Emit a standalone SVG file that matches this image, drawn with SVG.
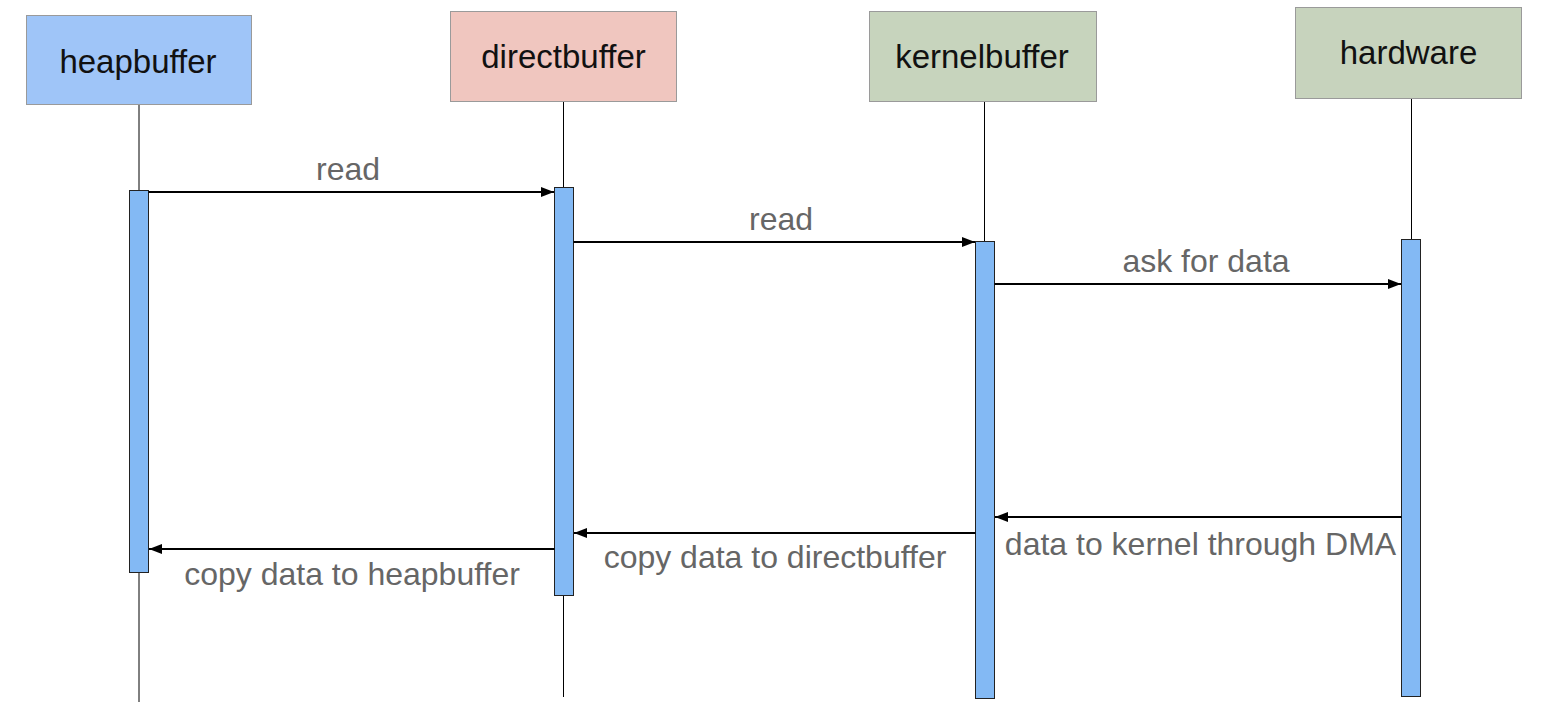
<svg xmlns="http://www.w3.org/2000/svg" width="1543" height="718" viewBox="0 0 1543 718">
<defs>
<marker id="ah" markerWidth="13" markerHeight="10" refX="13" refY="5" orient="auto" markerUnits="userSpaceOnUse">
<path d="M0,0 L13,5 L0,10 Z" fill="#000"/>
</marker>
<style>
.box{stroke:#9a9a9a;stroke-width:1}
.title{font-family:"Liberation Sans",Arial,sans-serif;font-size:33px;fill:#111;text-anchor:middle}
.life{stroke:#000;stroke-width:1;fill:none}
.bar{fill:#83b9f4;stroke:#222;stroke-width:1}
.msg{stroke:#000;stroke-width:2;fill:none;marker-end:url(#ah)}
.lbl{font-family:"Liberation Sans",Arial,sans-serif;font-size:32px;fill:#666;text-anchor:middle}
</style>
</defs>
<rect width="1543" height="718" fill="#fff"/>
<g id="heapbuffer">
<line class="life" x1="139" y1="104" x2="139" y2="702"/>
<rect class="box" x="26.5" y="15.5" width="225" height="89" fill="#9fc5f8"/>
<text class="title" x="138" y="73">heapbuffer</text>
<rect class="bar" x="129.5" y="190.5" width="19" height="382"/>
</g>
<g id="directbuffer">
<line class="life" x1="563.5" y1="101" x2="563.5" y2="697"/>
<rect class="box" x="450.5" y="11.5" width="226" height="90" fill="#f0c6bf"/>
<text class="title" x="563.5" y="68">directbuffer</text>
<rect class="bar" x="554.5" y="187.5" width="19" height="408"/>
</g>
<g id="kernelbuffer">
<line class="life" x1="984.5" y1="101" x2="984.5" y2="698"/>
<rect class="box" x="869.5" y="11.5" width="227" height="90" fill="#c7d4bd" stroke="none"/>
<text class="title" x="982" y="68">kernelbuffer</text>
<rect class="bar" x="975.5" y="241.5" width="19" height="457"/>
</g>
<g id="hardware">
<line class="life" x1="1411.5" y1="99" x2="1411.5" y2="697"/>
<rect class="box" x="1295.5" y="7.5" width="226" height="91" fill="#c7d3bd" stroke="none"/>
<text class="title" x="1408.5" y="64">hardware</text>
<rect class="bar" x="1401.5" y="239.5" width="19" height="457"/>
</g>
<g id="connectors">
<line class="msg" x1="148.5" y1="192" x2="554" y2="192"/>
<line class="msg" x1="573.5" y1="242" x2="975" y2="242"/>
<line class="msg" x1="994.5" y1="284" x2="1401" y2="284"/>
<line class="msg" x1="1401.5" y1="517" x2="995" y2="517"/>
<line class="msg" x1="975.5" y1="533" x2="574" y2="533"/>
<line class="msg" x1="554.5" y1="549" x2="149" y2="549"/>
</g>
<g id="labels">
<text class="lbl" x="348" y="180">read</text>
<text class="lbl" x="781" y="230">read</text>
<text class="lbl" x="1206" y="272">ask for data</text>
<text class="lbl" x="1200.5" y="555">data to kernel through DMA</text>
<text class="lbl" x="775" y="568">copy data to directbuffer</text>
<text class="lbl" x="352" y="585">copy data to heapbuffer</text>
</g>
</svg>
